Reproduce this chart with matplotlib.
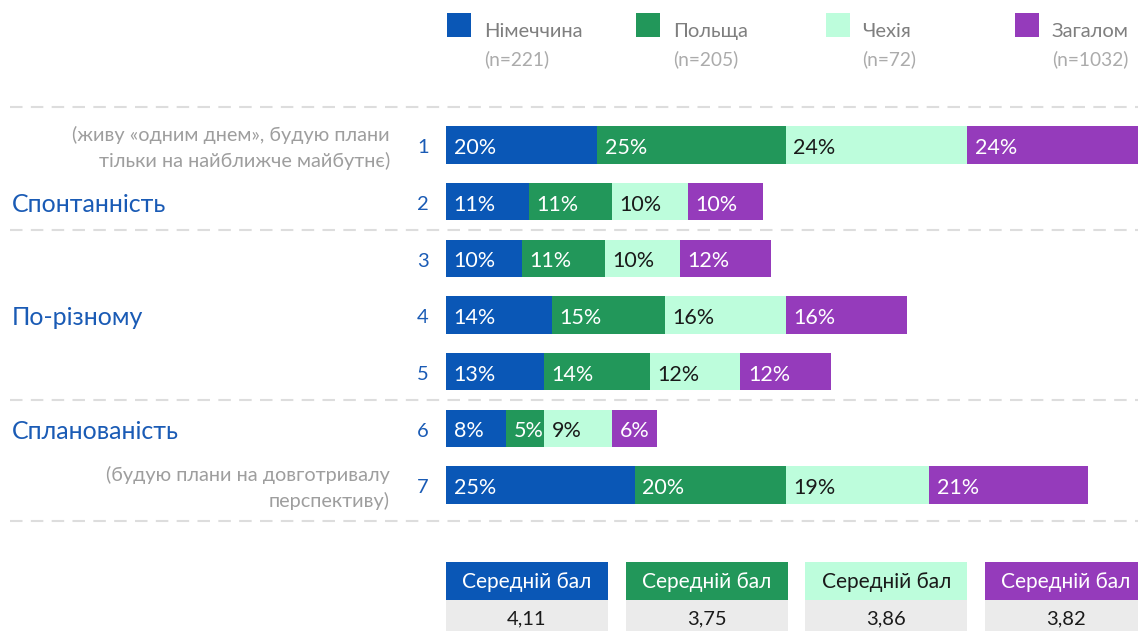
import numpy as np
import matplotlib.pyplot as plt
from matplotlib.patches import Rectangle
from matplotlib.transforms import blended_transform_factory

plt.rcParams['font.family'] = ['Lato', 'DejaVu Sans']

# data
categories = ['Німеччина', 'Польща', 'Чехія', 'Загалом']
sample_sizes = ['(n=221)', '(n=205)', '(n=72)', '(n=1032)']
rows = [1, 2, 3, 4, 5, 6, 7]
germany = [20, 11, 10, 14, 13, 8, 25]
poland = [25, 11, 11, 15, 14, 5, 20]
czechia = [24, 10, 10, 16, 12, 9, 19]
overall = [24, 10, 12, 16, 12, 6, 21]
mean_scores = ['4,11', '3,75', '3,86', '3,82']
group_labels = ['Спонтанність', 'По-різному', 'Сплановaність'.replace('a', 'а')]
group_rows = [2, 4, 6]
top_note = ['(живу «одним днем», будую плани', 'тільки на найближче майбутнє)']
bottom_note = ['(будую плани на довготривалу', 'перспективу)']

colors = ['#0a57b6', '#22975a', '#bdfddc', '#953bbb']
text_colors = ['white', 'white', '#1a1a1a', 'white']
accent = '#1a5bb5'

W, H = 1138, 631
fig = plt.figure(figsize=(W / 100, H / 100), dpi=100)

# overlay in pixel units for decoration
deco = fig.add_axes([0, 0, 1, 1])
deco.set_xlim(0, W)
deco.set_ylim(H, 0)
deco.axis('off')

# main bar axes
px_per_pct = 7.55
row_step = 56.67
y_top_px, y_bot_px = 107, 521
ax = fig.add_axes([446 / W, 1 - y_bot_px / H, (W - 446) / W, (y_bot_px - y_top_px) / H])
ax.set_xlim(0, (W - 446) / px_per_pct)
ax.set_ylim(1 + (y_bot_px - 145) / row_step, 1 - (145 - y_top_px) / row_step)
ax.axis('off')

dy = 0.05  # small nudge so text sits optically centred

series = [germany, poland, czechia, overall]
left = np.zeros(len(rows))
for vals, c, tc in zip(series, colors, text_colors):
    vals = np.array(vals, dtype=float)
    ax.barh(rows, vals, left=left, height=0.66, color=c, linewidth=0)
    for r, l, v in zip(rows, left, vals):
        ax.text(l + 1.0, r + dy, f'{int(v)}%', color=tc, fontsize=15.5,
                va='center', ha='left', clip_on=True)
    left += vals

# dashed separators and row labels
tr = blended_transform_factory(deco.transData, ax.transData)
for yy in [ax.get_ylim()[1], 2.5, 5.5, ax.get_ylim()[0]]:
    deco.plot([10, W], [yy, yy], transform=tr, color='#dddddd', lw=1.5,
              ls=(0, (6, 4)), clip_on=False)

for r in rows:
    deco.text(423, r + dy, str(r), transform=tr, color=accent, fontsize=14.5,
              ha='center', va='center')

for lbl, r in zip(group_labels, group_rows):
    deco.text(12, r + dy, lbl, transform=tr, color=accent, fontsize=18,
              ha='left', va='center')

deco.text(390, 1 + dy, '\n'.join(top_note), transform=tr, color='#9e9e9e',
          fontsize=14.3, ha='right', va='center', linespacing=1.5)
deco.text(390, 7 + dy, '\n'.join(bottom_note), transform=tr, color='#9e9e9e',
          fontsize=14.3, ha='right', va='center', linespacing=1.5)

# legend
for i, (cat, n) in enumerate(zip(categories, sample_sizes)):
    x0 = 447 + i * 189.3
    deco.add_patch(Rectangle((x0, 13), 24, 24, color=colors[i], lw=0))
    deco.text(x0 + 37, 37, cat, color='#7f7f7f', fontsize=14.5, ha='left', va='baseline')
    deco.text(x0 + 37, 65, n, color='#ababab', fontsize=13.8, ha='left', va='baseline')

# mean score boxes
ax2 = fig.add_axes([446 / W, 0, (W - 446) / W, (H - 562) / H])
ax2.set_xlim(-0.45, 3.40)
ax2.set_ylim(1 - 31 / 38, 2)
ax2.axis('off')
idx = np.arange(len(categories))
ax2.bar(idx, 1, width=0.9, bottom=1, color=colors, linewidth=0)
ax2.bar(idx, 1, width=0.9, bottom=0, color='#ebebeb', linewidth=0)
for i in idx:
    ax2.text(i, 1.47, 'Середній бал', color=text_colors[i], fontsize=15,
             ha='center', va='center')
    ax2.text(i, 0.5, mean_scores[i], color='#1a1a1a', fontsize=14.5,
             ha='center', va='center')

fig.savefig('out.png', dpi=100)
plt.close(fig)
